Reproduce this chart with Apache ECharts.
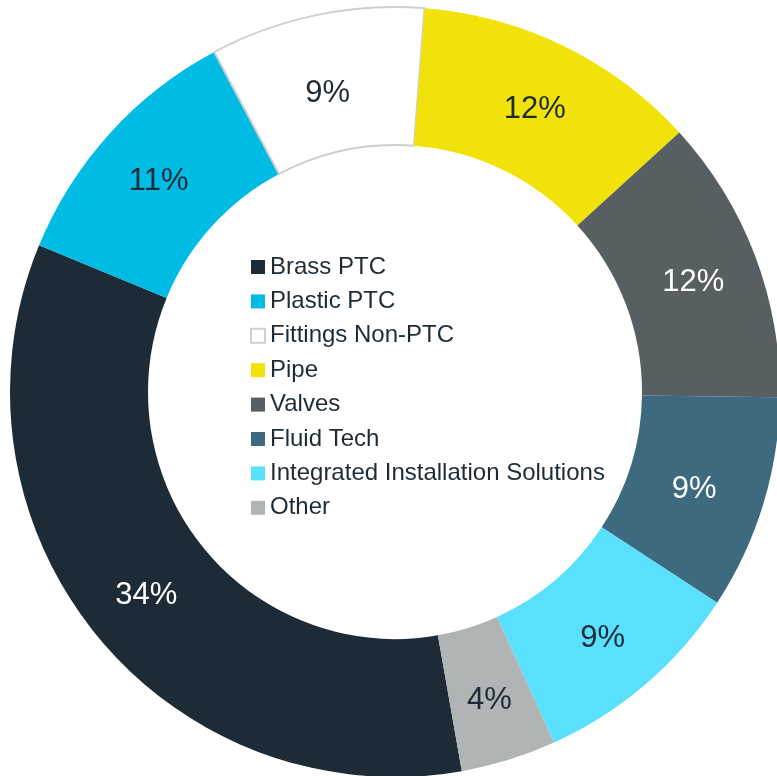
<!DOCTYPE html>
<html>
<head>
<meta charset="utf-8">
<script src="https://cdn.jsdelivr.net/npm/echarts@6/dist/echarts.min.js"></script>
<style>html,body{margin:0;padding:0;background:#fff}#c{width:777px;height:776px}</style>
</head>
<body>
<div id="c"></div>
<script>
const categories = ['Brass PTC','Plastic PTC','Fittings Non-PTC','Pipe','Valves','Fluid Tech','Integrated Installation Solutions','Other'];
const values = [34, 11, 9, 12, 12, 9, 9, 4];
const colors = ['#1c2b36','#00bbe4','#ffffff','#f1e30a','#575f62','#3e6a80','#58e0fd','#b1b4b5'];
const labelColors = ['#ffffff','#1c2b36','#1c2b36','#1c2b36','#ffffff','#ffffff','#1c2b36','#1c2b36'];

const chart = echarts.init(document.getElementById('c'), null, {renderer:'canvas'});
const data = categories.map((n,i)=>({
  name:n, value:values[i],
  itemStyle: i===2 ? {color:colors[i], borderColor:'#cfcfcf', borderWidth:2} : {color:colors[i], borderWidth:0},
  label:{color:labelColors[i], offset: i===2 ? [-2,14] : (i===5 ? [-6,4] : [0,4])}
}));
chart.setOption({
  animation:false,
  legend:{
    orient:'vertical', left:245, top:250,
    icon:'rect', itemWidth:14, itemHeight:14, itemGap:10.4, itemTextGap:3,
    textStyle:{fontFamily:'Liberation Sans, Arial, sans-serif', fontSize:24, color:'#1c2b36'},
    data:categories
  },
  series:[{
    type:'pie', center:[395,392], radius:[247,385], startAngle:280, clockwise:true,
    avoidLabelOverlap:false,
    label:{show:true, position:'inside', formatter: p=>p.value+'%', fontFamily:'Liberation Sans, Arial, sans-serif', fontSize:31},
    labelLine:{show:false},
    emphasis:{disabled:true},
    data:data
  }]
});
</script>
</body>
</html>
